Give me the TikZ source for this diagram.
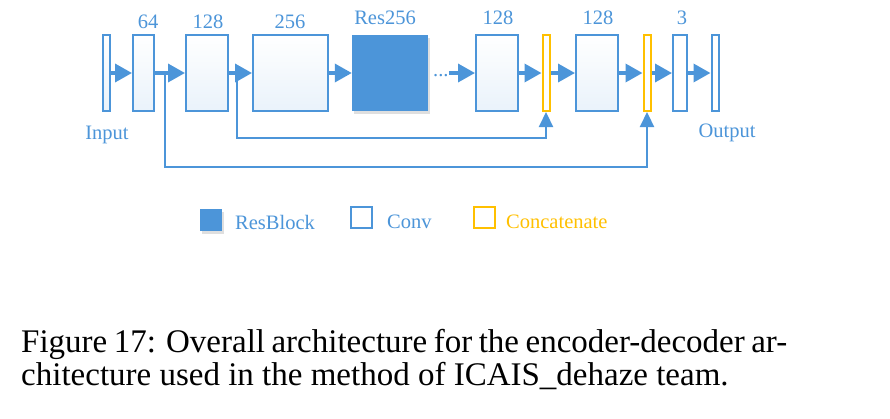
\documentclass[tikz,border=0pt]{standalone}
\usepackage{fontspec}
\setmainfont{Liberation Serif}
\usetikzlibrary{arrows.meta,shadows}
\definecolor{netblue}{HTML}{4C95D9}
\definecolor{catyellow}{HTML}{FFC000}
\tikzset{
  conv/.style={draw=netblue, line width=2pt, inner sep=0pt, minimum height=76pt, top color=white, bottom color=netblue!12},
  plainconv/.style={draw=netblue, line width=2pt, inner sep=0pt, minimum height=76pt, fill=white},
  concat/.style={draw=catyellow, line width=2pt, inner sep=0pt, minimum height=76pt, minimum width=7pt, fill=white},
  resblock/.style={fill=netblue, inner sep=0pt, minimum width=76pt, minimum height=76pt, drop shadow={shadow xshift=2pt, shadow yshift=-3pt, opacity=0.25}},
  lbl/.style={text=netblue, font=\fontsize{20.5}{24}\selectfont, inner sep=0pt, anchor=base},
  arr/.style={draw=netblue, line width=3.5pt, -{Triangle[length=17pt,width=18pt]}},
  skip/.style={draw=netblue, line width=2.2pt, -{Triangle[length=15pt,width=14pt]}},
  captext/.style={font=\fontsize{33}{33}\selectfont, inner sep=0pt, anchor=base west}
}
\begin{document}
\begin{tikzpicture}[x=1pt,y=-1pt]
\useasboundingbox[fill=white] (0,0) rectangle (890,418);
\node[conv, minimum width=7pt] (in) at (106.5,73){};
\node[conv, minimum width=21pt] (c64) at (143.5,73){};
\node[conv, minimum width=42pt] (c128a) at (207,73){};
\node[conv, minimum width=75pt] (c256) at (290.5,73){};
\node[resblock] (res) at (390,73){};
\node[lbl, anchor=base west] (dots) at (433,76){...};
\node[conv, minimum width=42pt] (c128b) at (497,73){};
\node[concat] (cat1) at (546,73){};
\node[conv, minimum width=42pt] (c128c) at (597,73){};
\node[concat] (cat2) at (647,73){};
\node[plainconv, minimum width=14pt] (c3) at (680,73){};
\node[plainconv, minimum width=7pt] (out) at (715,73){};
\node[lbl] (t64) at (148,28){64};
\node[lbl] (t128a) at (208,28){128};
\node[lbl] (t256) at (290,28){256};
\node[lbl] (tres) at (385,24){Res256};
\node[lbl] (t128b) at (498,24){128};
\node[lbl] (t128c) at (598,24){128};
\node[lbl] (t3) at (682,24){3};
\node[lbl] (tin) at (107,139){Input};
\node[lbl] (tout) at (727,137){Output};
\draw[arr] (in) -- (c64);
\draw[arr] (c64) -- (c128a);
\draw[arr] (c128a) -- (c256);
\draw[arr] (c256) -- (res);
\draw[arr] (dots.east |- c128b) -- (c128b);
\draw[arr] (c128b) -- (cat1);
\draw[arr] (cat1) -- (c128c);
\draw[arr] (c128c) -- (cat2);
\draw[arr] (cat2) -- (c3);
\draw[arr] (c3) -- (out);
\coordinate (s1) at (237,73);
\coordinate (s2) at (165,73);
\draw[skip] (s1) -- ++(0,65) -| (cat1.south);
\draw[skip] (s2) -- ++(0,94) -| (cat2.south);
\node[resblock, minimum width=22pt, minimum height=22pt] (kres) at (211,220){};
\node[lbl, anchor=base west] (lres) at (235,229){ResBlock};
\node[plainconv, minimum width=21pt, minimum height=21pt] (kconv) at (361.5,217){};
\node[lbl, anchor=base west] (lconv) at (387,228){Conv};
\node[concat, minimum width=21pt, minimum height=21pt] (kcat) at (484.5,217){};
\node[lbl, anchor=base west, text=catyellow] (lcat) at (506,228){Concatenate};
\node[captext] (cap1) at (21,352){\makebox[766pt][s]{Figure 17: Overall architecture for the encoder-decoder ar-}};
\node[captext] (cap2) at (21,385){chitecture used in the method of ICAIS\_dehaze team.};
\end{tikzpicture}
\end{document}
